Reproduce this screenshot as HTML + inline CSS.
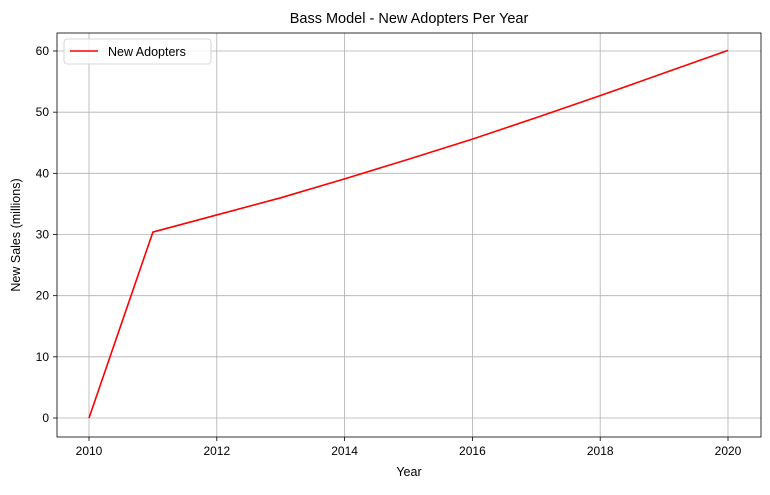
<!DOCTYPE html>
<html><head><meta charset="utf-8"><style>
body{margin:0;background:#fff;}
svg text{font-family:"Liberation Sans","DejaVu Sans",sans-serif;fill:#000;}
</style></head><body>
<svg id="chart" width="770" height="490"></svg>
<script>
const years=[2010,2011,2012,2013,2014,2015,2016,2017,2018,2019,2020];
const newAdopters=[0,30.4,33.2,36.0,39.1,42.3,45.6,49.1,52.7,56.4,60.1];
const xTicks=[2010,2012,2014,2016,2018,2020];
const yTicks=[0,10,20,30,40,50,60];
const NS='http://www.w3.org/2000/svg';
const svg=document.getElementById('chart');
const L=57,R=761,T=33,B=437;
const xs=v=>89+(v-2010)*(728-89)/10;
const ys=v=>418-v*(418-51)/60;
function mk(tag,attrs,parent){const e=document.createElementNS(NS,tag);for(const k in attrs)e.setAttribute(k,attrs[k]);(parent||svg).appendChild(e);return e;}
const grid=mk('g',{});


xTicks.forEach(t=>{
  const l=mk('line',{x1:xs(t),x2:xs(t),y1:T,y2:B,stroke:'#b0b0b0','stroke-width':0.8},grid);
  
  
  mk('line',{x1:xs(t),x2:xs(t),y1:B,y2:B+4,stroke:'#000','stroke-width':0.8});
  const tx=mk('text',{x:xs(t),y:B+18,'text-anchor':'middle','font-size':12});
  tx.textContent=t;
  
  
});
yTicks.forEach(t=>{
  const l=mk('line',{x1:L,x2:R,y1:ys(t),y2:ys(t),stroke:'#b0b0b0','stroke-width':0.8},grid);
  
  
  mk('line',{x1:L-4,x2:L,y1:ys(t),y2:ys(t),stroke:'#000','stroke-width':0.8});
  const tx=mk('text',{x:L-8,y:ys(t)+4,'text-anchor':'end','font-size':12});
  tx.textContent=t;
  
  
});
const line=mk('polyline',{points:years.map((y,i)=>xs(y)+','+ys(newAdopters[i])).join(' '),fill:'none',stroke:'#ff0000','stroke-width':1.6});


const frame=mk('rect',{x:L,y:T,width:R-L,height:B-T,fill:'none',stroke:'#000','stroke-width':0.8});


const title=mk('text',{x:(L+R)/2,y:23,'text-anchor':'middle','font-size':14.5});
title.textContent='Bass Model - New Adopters Per Year';


const xl=mk('text',{x:(L+R)/2,y:476,'text-anchor':'middle','font-size':12.5});
xl.textContent='Year';


const yl=mk('text',{x:20,y:235,'text-anchor':'middle','font-size':12.5,transform:'rotate(-90 20 235)'});
yl.textContent='New Sales (millions)';


const lg=mk('g',{});


mk('rect',{x:64,y:39,width:147,height:25,rx:3,fill:'#fff','fill-opacity':0.8,stroke:'#ccc','stroke-width':0.8},lg);
mk('line',{x1:70,x2:98,y1:51,y2:51,stroke:'#ff0000','stroke-width':1.6},lg);
const lt=mk('text',{x:108,y:56,'font-size':12.5},lg);
lt.textContent='New Adopters';


</script>
</body></html>
